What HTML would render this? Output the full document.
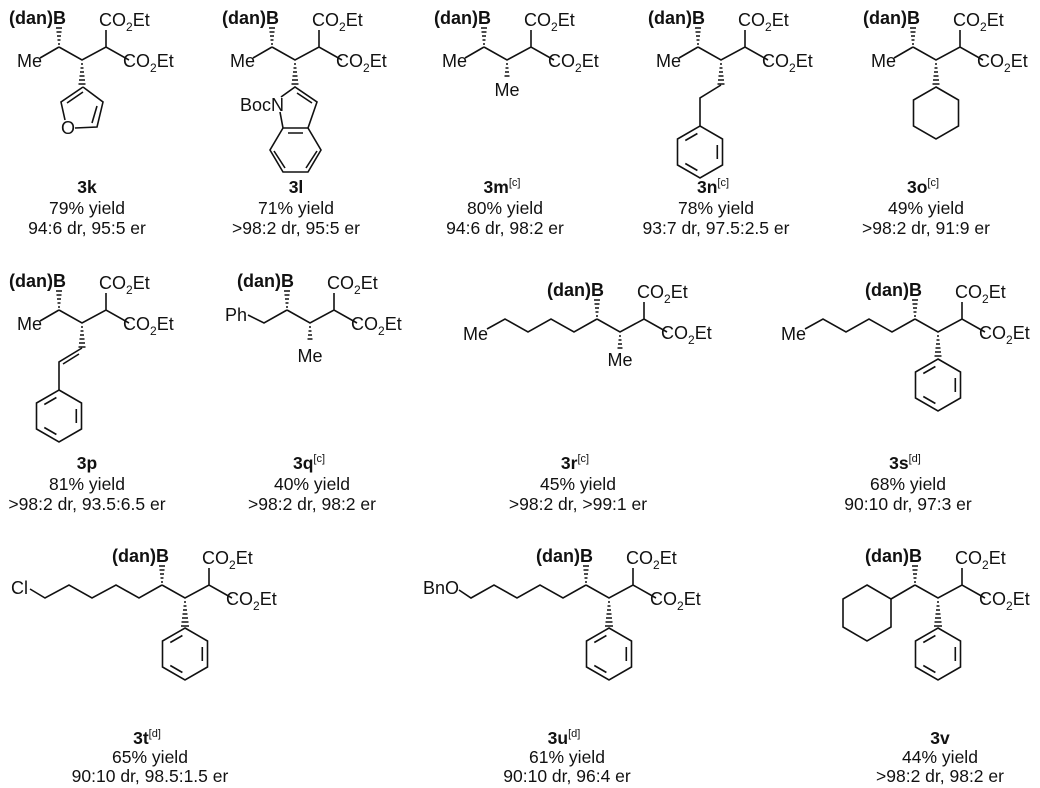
<!DOCTYPE html>
<html><head><meta charset="utf-8"><style>
html,body{margin:0;padding:0;background:#fff}
svg{display:block}
text{font-family:"Liberation Sans",Arial,sans-serif;font-size:18px;fill:#111}
.b{font-weight:bold}
.l{font-size:17.5px}
path,polygon,line{stroke:#111;stroke-width:1.6;fill:none}
.h{stroke-width:1.4}
</style></head><body>
<svg width="1040" height="788" viewBox="0 0 1040 788" xmlns="http://www.w3.org/2000/svg">

<!-- ===== ROW 1 ===== -->
<g transform="translate(59,47)">
<path d="M0,0 L23,13 L47,0 L70,13 M47,0 L47,-17 M0,0 L-19,11"/>
<path class="h" d="M-1,-3h2 M-1.5,-7h3 M-2,-11h4 M-2.5,-15h5 M-3,-19h6 M22,17h2 M21.5,21h3 M21,25h4 M20.5,29h5 M20,33h6 M19.5,37h7"/>
<text x="7" y="-23" class="b" text-anchor="end">(dan)B</text>
<text x="-17" y="20" text-anchor="end">Me</text>
<text x="40" y="-21">CO<tspan font-size="12" dy="5">2</tspan><tspan dy="-5">Et</tspan></text>
<text x="64" y="20">CO<tspan font-size="12" dy="5">2</tspan><tspan dy="-5">Et</tspan></text>
</g>
<path d="M83,87 L61,102 L65,120 M75,128 L97,127 L103,102 L83,87 M67,103 L83,92 M97,106 L92,123"/>
<text x="68" y="134" text-anchor="middle">O</text>

<g transform="translate(272,47)">
<path d="M0,0 L23,13 L47,0 L70,13 M47,0 L47,-17 M0,0 L-19,11"/>
<path class="h" d="M-1,-3h2 M-1.5,-7h3 M-2,-11h4 M-2.5,-15h5 M-3,-19h6 M22,17h2 M21.5,21h3 M21,25h4 M20.5,29h5 M20,33h6 M19.5,37h7"/>
<text x="7" y="-23" class="b" text-anchor="end">(dan)B</text>
<text x="-17" y="20" text-anchor="end">Me</text>
<text x="40" y="-21">CO<tspan font-size="12" dy="5">2</tspan><tspan dy="-5">Et</tspan></text>
<text x="64" y="20">CO<tspan font-size="12" dy="5">2</tspan><tspan dy="-5">Et</tspan></text>
</g>
<path d="M281,97 L295,87 L317,102 L308,128 L283,128 L280,112 M297,93 L312,103 M283,128 L270,150 L283,172 L308,172 L321,150 L308,128 M274,151 L285,168 M306,168 L317,151 M288,133 L303,133"/>
<text x="284" y="111" text-anchor="end">BocN</text>

<g transform="translate(484,47)">
<path d="M0,0 L23,13 L47,0 L70,13 M47,0 L47,-17 M0,0 L-19,11"/>
<path class="h" d="M-1,-3h2 M-1.5,-7h3 M-2,-11h4 M-2.5,-15h5 M-3,-19h6 M22,17h2 M21.5,21h3 M21,25h4 M20.5,29h5"/>
<text x="7" y="-23" class="b" text-anchor="end">(dan)B</text>
<text x="-17" y="20" text-anchor="end">Me</text>
<text x="23" y="49" text-anchor="middle">Me</text>
<text x="40" y="-21">CO<tspan font-size="12" dy="5">2</tspan><tspan dy="-5">Et</tspan></text>
<text x="64" y="20">CO<tspan font-size="12" dy="5">2</tspan><tspan dy="-5">Et</tspan></text>
</g>

<g transform="translate(698,47)">
<path d="M0,0 L23,13 L47,0 L70,13 M47,0 L47,-17 M0,0 L-19,11"/>
<path class="h" d="M-1,-3h2 M-1.5,-7h3 M-2,-11h4 M-2.5,-15h5 M-3,-19h6 M22,17h2 M21.5,21h3 M21,25h4 M20.5,29h5 M20,33h6 M19.5,37h7"/>
<text x="7" y="-23" class="b" text-anchor="end">(dan)B</text>
<text x="-17" y="20" text-anchor="end">Me</text>
<text x="40" y="-21">CO<tspan font-size="12" dy="5">2</tspan><tspan dy="-5">Et</tspan></text>
<text x="64" y="20">CO<tspan font-size="12" dy="5">2</tspan><tspan dy="-5">Et</tspan></text>
</g>
<path d="M721,85 L700,98 L700,126"/>
<g transform="translate(700,152)">
<polygon points="0,-26 22.5,-13 22.5,13 0,26 -22.5,13 -22.5,-13"/>
<path d="M-14.7,-11.5 L-2.6,-18.5 M17.3,-7 L17.3,7 M-2.6,18.5 L-14.7,11.5"/>
</g>

<g transform="translate(913,47)">
<path d="M0,0 L23,13 L47,0 L70,13 M47,0 L47,-17 M0,0 L-19,11"/>
<path class="h" d="M-1,-3h2 M-1.5,-7h3 M-2,-11h4 M-2.5,-15h5 M-3,-19h6 M22,17h2 M21.5,21h3 M21,25h4 M20.5,29h5 M20,33h6 M19.5,37h7"/>
<text x="7" y="-23" class="b" text-anchor="end">(dan)B</text>
<text x="-17" y="20" text-anchor="end">Me</text>
<text x="40" y="-21">CO<tspan font-size="12" dy="5">2</tspan><tspan dy="-5">Et</tspan></text>
<text x="64" y="20">CO<tspan font-size="12" dy="5">2</tspan><tspan dy="-5">Et</tspan></text>
</g>
<g transform="translate(936,113)"><polygon points="0,-26 22.5,-13 22.5,13 0,26 -22.5,13 -22.5,-13"/></g>

<!-- row 1 labels -->
<text class="l b" x="87" y="193" text-anchor="middle">3k</text><text class="l" x="87" y="214" text-anchor="middle">79% yield</text><text class="l" x="87" y="234" text-anchor="middle">94:6 dr, 95:5 er</text>
<text class="l b" x="296" y="193" text-anchor="middle">3l</text><text class="l" x="296" y="214" text-anchor="middle">71% yield</text><text class="l" x="296" y="234" text-anchor="middle">&gt;98:2 dr, 95:5 er</text>
<text class="l b" x="502" y="193" text-anchor="middle">3m<tspan font-size="11" font-weight="normal" dy="-7">[c]</tspan></text><text class="l" x="505" y="214" text-anchor="middle">80% yield</text><text class="l" x="505" y="234" text-anchor="middle">94:6 dr, 98:2 er</text>
<text class="l b" x="713" y="193" text-anchor="middle">3n<tspan font-size="11" font-weight="normal" dy="-7">[c]</tspan></text><text class="l" x="716" y="214" text-anchor="middle">78% yield</text><text class="l" x="716" y="234" text-anchor="middle">93:7 dr, 97.5:2.5 er</text>
<text class="l b" x="923" y="193" text-anchor="middle">3o<tspan font-size="11" font-weight="normal" dy="-7">[c]</tspan></text><text class="l" x="926" y="214" text-anchor="middle">49% yield</text><text class="l" x="926" y="234" text-anchor="middle">&gt;98:2 dr, 91:9 er</text>

<!-- ===== ROW 2 ===== -->
<g transform="translate(59,310)">
<path d="M0,0 L23,13 L47,0 L70,13 M47,0 L47,-17 M0,0 L-19,11"/>
<path class="h" d="M-1,-3h2 M-1.5,-7h3 M-2,-11h4 M-2.5,-15h5 M-3,-19h6 M22,17h2 M21.5,21h3 M21,25h4 M20.5,29h5 M20,33h6 M19.5,37h7"/>
<text x="7" y="-23" class="b" text-anchor="end">(dan)B</text>
<text x="-17" y="20" text-anchor="end">Me</text>
<text x="40" y="-21">CO<tspan font-size="12" dy="5">2</tspan><tspan dy="-5">Et</tspan></text>
<text x="64" y="20">CO<tspan font-size="12" dy="5">2</tspan><tspan dy="-5">Et</tspan></text>
</g>
<path d="M82,348 L59,362 L59,390 M79,354 L63,364"/>
<g transform="translate(59,416)">
<polygon points="0,-26 22.5,-13 22.5,13 0,26 -22.5,13 -22.5,-13"/>
<path d="M-14.7,-11.5 L-2.6,-18.5 M17.3,-7 L17.3,7 M-2.6,18.5 L-14.7,11.5"/>
</g>

<g transform="translate(287,310)">
<path d="M0,0 L23,13 L47,0 L70,13 M47,0 L47,-17 M0,0 L-23,13 L-39,5"/>
<path class="h" d="M-1,-3h2 M-1.5,-7h3 M-2,-11h4 M-2.5,-15h5 M-3,-19h6 M22,17h2 M21.5,21h3 M21,25h4 M20.5,29h5"/>
<text x="7" y="-23" class="b" text-anchor="end">(dan)B</text>
<text x="-40" y="11" text-anchor="end">Ph</text>
<text x="23" y="52" text-anchor="middle">Me</text>
<text x="40" y="-21">CO<tspan font-size="12" dy="5">2</tspan><tspan dy="-5">Et</tspan></text>
<text x="64" y="20">CO<tspan font-size="12" dy="5">2</tspan><tspan dy="-5">Et</tspan></text>
</g>

<g transform="translate(597,319)">
<path d="M0,0 L23,13 L47,0 L70,13 M47,0 L47,-17 M0,0 L-23,13 L-46,0 L-69,13 L-92,0 L-110,10"/>
<path class="h" d="M-1,-3h2 M-1.5,-7h3 M-2,-11h4 M-2.5,-15h5 M-3,-19h6 M22,17h2 M21.5,21h3 M21,25h4 M20.5,29h5"/>
<text x="7" y="-23" class="b" text-anchor="end">(dan)B</text>
<text x="-109" y="21" text-anchor="end">Me</text>
<text x="23" y="47" text-anchor="middle">Me</text>
<text x="40" y="-21">CO<tspan font-size="12" dy="5">2</tspan><tspan dy="-5">Et</tspan></text>
<text x="64" y="20">CO<tspan font-size="12" dy="5">2</tspan><tspan dy="-5">Et</tspan></text>
</g>

<g transform="translate(915,319)">
<path d="M0,0 L23,13 L47,0 L70,13 M47,0 L47,-17 M0,0 L-23,13 L-46,0 L-69,13 L-92,0 L-110,10"/>
<path class="h" d="M-1,-3h2 M-1.5,-7h3 M-2,-11h4 M-2.5,-15h5 M-3,-19h6 M22,17h2 M21.5,21h3 M21,25h4 M20.5,29h5 M20,33h6 M19.5,37h7"/>
<text x="7" y="-23" class="b" text-anchor="end">(dan)B</text>
<text x="-109" y="21" text-anchor="end">Me</text>
<text x="40" y="-21">CO<tspan font-size="12" dy="5">2</tspan><tspan dy="-5">Et</tspan></text>
<text x="64" y="20">CO<tspan font-size="12" dy="5">2</tspan><tspan dy="-5">Et</tspan></text>
</g>
<g transform="translate(938,385)">
<polygon points="0,-26 22.5,-13 22.5,13 0,26 -22.5,13 -22.5,-13"/>
<path d="M-14.7,-11.5 L-2.6,-18.5 M17.3,-7 L17.3,7 M-2.6,18.5 L-14.7,11.5"/>
</g>

<!-- row 2 labels -->
<text class="l b" x="87" y="469" text-anchor="middle">3p</text><text class="l" x="87" y="490" text-anchor="middle">81% yield</text><text class="l" x="87" y="510" text-anchor="middle">&gt;98:2 dr, 93.5:6.5 er</text>
<text class="l b" x="309" y="469" text-anchor="middle">3q<tspan font-size="11" font-weight="normal" dy="-7">[c]</tspan></text><text class="l" x="312" y="490" text-anchor="middle">40% yield</text><text class="l" x="312" y="510" text-anchor="middle">&gt;98:2 dr, 98:2 er</text>
<text class="l b" x="575" y="469" text-anchor="middle">3r<tspan font-size="11" font-weight="normal" dy="-7">[c]</tspan></text><text class="l" x="578" y="490" text-anchor="middle">45% yield</text><text class="l" x="578" y="510" text-anchor="middle">&gt;98:2 dr, &gt;99:1 er</text>
<text class="l b" x="905" y="469" text-anchor="middle">3s<tspan font-size="11" font-weight="normal" dy="-7">[d]</tspan></text><text class="l" x="908" y="490" text-anchor="middle">68% yield</text><text class="l" x="908" y="510" text-anchor="middle">90:10 dr, 97:3 er</text>

<!-- ===== ROW 3 ===== -->
<g transform="translate(162,585)">
<path d="M0,0 L23,13 L47,0 L70,13 M47,0 L47,-17 M0,0 L-23,13 L-46,0 L-70,13 L-93,0 L-117,13 L-132,4"/>
<path class="h" d="M-1,-3h2 M-1.5,-7h3 M-2,-11h4 M-2.5,-15h5 M-3,-19h6 M22,17h2 M21.5,21h3 M21,25h4 M20.5,29h5 M20,33h6 M19.5,37h7 M19,41h8"/>
<text x="7" y="-23" class="b" text-anchor="end">(dan)B</text>
<text x="-134" y="9" text-anchor="end">Cl</text>
<text x="40" y="-21">CO<tspan font-size="12" dy="5">2</tspan><tspan dy="-5">Et</tspan></text>
<text x="64" y="20">CO<tspan font-size="12" dy="5">2</tspan><tspan dy="-5">Et</tspan></text>
</g>
<g transform="translate(185,654)">
<polygon points="0,-26 22.5,-13 22.5,13 0,26 -22.5,13 -22.5,-13"/>
<path d="M-14.7,-11.5 L-2.6,-18.5 M17.3,-7 L17.3,7 M-2.6,18.5 L-14.7,11.5"/>
</g>

<g transform="translate(586,585)">
<path d="M0,0 L23,13 L47,0 L70,13 M47,0 L47,-17 M0,0 L-23,13 L-46,0 L-69,13 L-92,0 L-115,13 L-127,5"/>
<path class="h" d="M-1,-3h2 M-1.5,-7h3 M-2,-11h4 M-2.5,-15h5 M-3,-19h6 M22,17h2 M21.5,21h3 M21,25h4 M20.5,29h5 M20,33h6 M19.5,37h7 M19,41h8"/>
<text x="7" y="-23" class="b" text-anchor="end">(dan)B</text>
<text x="-127" y="9" text-anchor="end">BnO</text>
<text x="40" y="-21">CO<tspan font-size="12" dy="5">2</tspan><tspan dy="-5">Et</tspan></text>
<text x="64" y="20">CO<tspan font-size="12" dy="5">2</tspan><tspan dy="-5">Et</tspan></text>
</g>
<g transform="translate(609,654)">
<polygon points="0,-26 22.5,-13 22.5,13 0,26 -22.5,13 -22.5,-13"/>
<path d="M-14.7,-11.5 L-2.6,-18.5 M17.3,-7 L17.3,7 M-2.6,18.5 L-14.7,11.5"/>
</g>

<g transform="translate(915,585)">
<path d="M0,0 L23,13 L47,0 L70,13 M47,0 L47,-17 M0,0 L-24,14"/>
<path class="h" d="M-1,-3h2 M-1.5,-7h3 M-2,-11h4 M-2.5,-15h5 M-3,-19h6 M22,17h2 M21.5,21h3 M21,25h4 M20.5,29h5 M20,33h6 M19.5,37h7 M19,41h8"/>
<text x="7" y="-23" class="b" text-anchor="end">(dan)B</text>
<text x="40" y="-21">CO<tspan font-size="12" dy="5">2</tspan><tspan dy="-5">Et</tspan></text>
<text x="64" y="20">CO<tspan font-size="12" dy="5">2</tspan><tspan dy="-5">Et</tspan></text>
</g>
<g transform="translate(867,613)"><polygon points="0,-28 24,-14 24,14 0,28 -24,14 -24,-14"/></g>
<g transform="translate(938,654)">
<polygon points="0,-26 22.5,-13 22.5,13 0,26 -22.5,13 -22.5,-13"/>
<path d="M-14.7,-11.5 L-2.6,-18.5 M17.3,-7 L17.3,7 M-2.6,18.5 L-14.7,11.5"/>
</g>

<!-- row 3 labels -->
<text class="l b" x="147" y="744" text-anchor="middle">3t<tspan font-size="11" font-weight="normal" dy="-7">[d]</tspan></text><text class="l" x="150" y="763" text-anchor="middle">65% yield</text><text class="l" x="150" y="782" text-anchor="middle">90:10 dr, 98.5:1.5 er</text>
<text class="l b" x="564" y="744" text-anchor="middle">3u<tspan font-size="11" font-weight="normal" dy="-7">[d]</tspan></text><text class="l" x="567" y="763" text-anchor="middle">61% yield</text><text class="l" x="567" y="782" text-anchor="middle">90:10 dr, 96:4 er</text>
<text class="l b" x="940" y="744" text-anchor="middle">3v</text><text class="l" x="940" y="763" text-anchor="middle">44% yield</text><text class="l" x="940" y="782" text-anchor="middle">&gt;98:2 dr, 98:2 er</text>
</svg>
</body></html>
